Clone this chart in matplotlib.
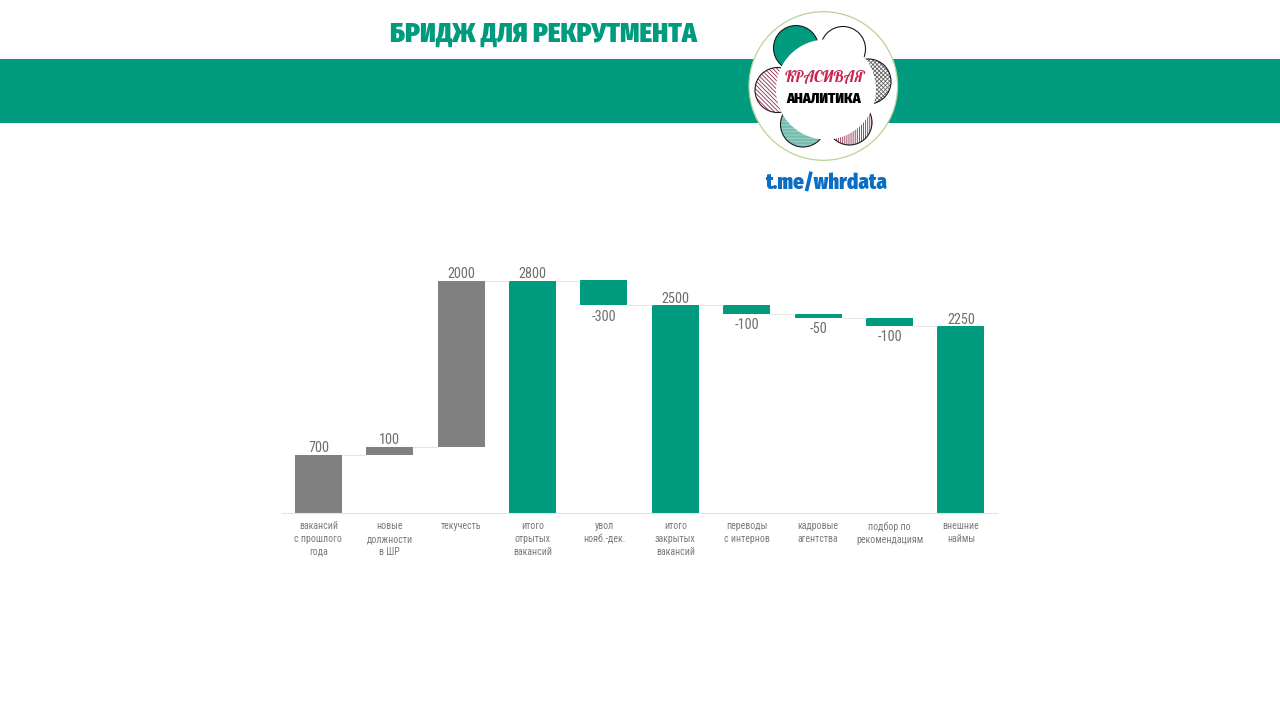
import matplotlib
matplotlib.use("Agg")
import matplotlib.pyplot as plt
from matplotlib.patches import Circle, Rectangle

categories = ["вакансий\nс прошлого\nгода", "новые\nдолжности\nв ШР", "текучесть",
              "итого\nотрытых\nвакансий", "увол\nнояб.-дек.", "итого\nзакрытых\nвакансий",
              "переводы\nс интернов", "кадровые\nагентства", "подбор по\nрекомендациям",
              "внешние\nнаймы"]
values = [700, 100, 2000, 2800, -300, 2500, -100, -50, -100, 2250]
is_total = [False, False, False, True, False, True, False, False, False, True]

GREEN = "#009B7F"
GREY = "#808080"
COND = ["Roboto Condensed", "Archivo Narrow", "Roboto", "DejaVu Sans"]
HEAVY = ["Fira Sans Condensed", "Roboto Condensed", "Roboto", "DejaVu Sans"]
SCRIPT = ["Lobster", "Liberation Serif", "DejaVu Sans"]
plt.rcParams["font.family"] = COND
plt.rcParams["hatch.linewidth"] = 0.6

W, H = 1280, 719
fig = plt.figure(figsize=(W / 100, H / 100), dpi=100, facecolor="white")

# Header and logo, drawn in pixel coordinates
bg = fig.add_axes([0, 0, 1, 1], zorder=0)
bg.set_xlim(0, W)
bg.set_ylim(H, 0)
bg.axis("off")
bg.add_patch(Rectangle((0, 59), W, 64, color=GREEN, lw=0))
bg.text(543, 34.5, "БРИДЖ ДЛЯ РЕКРУТМЕНТА", color=GREEN, fontsize=19.4, family=HEAVY, fontweight=900,
        ha="center", va="center")

bg.add_patch(Circle((823.3, 86), 74.3, fc="white", ec="#B9D29A", lw=0.9, zorder=2))
petals = [
    ((796, 48), GREEN, None, "#1a1a1a"),
    ((843, 49), "white", None, "#1a1a1a"),
    ((868.5, 81.5), "white", "xxxxxxxx", "#666666"),
    ((849.5, 122.5), "white", "||||||||", "#8E2A50"),
    ((803, 124.5), "#74BDB0", "-----", "#A5D6CC"),
    ((777.5, 90), "white", "\\\\\\\\\\\\\\\\", "#8E2A50"),
]
for (c, fc, hatch, ec) in petals:
    bg.add_patch(Circle(c, 22.5, fc=fc, ec=ec, lw=0, hatch=hatch, zorder=3))
    bg.add_patch(Circle(c, 22.5, fc="none", ec="#1a1a1a", lw=0.8, zorder=3.1))
bg.add_patch(Circle((826, 89.5), 50, fc="white", ec="none", zorder=4))
bg.text(825, 78, "КРАСИВАЯ", color="#C8284F", fontsize=11.5, family=SCRIPT,
        ha="center", va="center", zorder=5)
bg.text(824, 98.5, "АНАЛИТИКА", color="black", fontsize=10.5, family=HEAVY, fontweight=900,
        ha="center", va="center", zorder=5)
bg.text(826.5, 183.5, "t.me/whrdata", color="#0A6EC4", fontsize=15, family=HEAVY, fontweight=900,
        ha="center", va="center", zorder=5)

# Waterfall chart
left, right, top, bottom = 282, 997, 280.5, 513
ax = fig.add_axes([left / W, 1 - bottom / H, (right - left) / W, (bottom - top) / H], zorder=1)
ax.patch.set_alpha(0)
ax.set_xlim(-0.51, 9.505)
ax.set_ylim(0, 2800)
for s in ["top", "left", "right"]:
    ax.spines[s].set_visible(False)
ax.spines["bottom"].set_color("#E2E2E2")
ax.spines["bottom"].set_linewidth(0.8)
ax.set_yticks([])
ax.set_xticks(range(len(categories)))
ax.set_xticklabels(categories, fontsize=7.1, color="#7A7A7A", linespacing=1.35)
ax.tick_params(axis="x", length=0, pad=6)

width = 47 / 71.4
running = 0
levels = []
for i, (v, total) in enumerate(zip(values, is_total)):
    if total:
        base, end = 0, v
        running = v
        color = GREEN
    else:
        base, end = running, running + v
        running = end
        color = GREY if v > 0 else GREEN
    ax.bar(i, end - base, width, bottom=base, color=color, linewidth=0, clip_on=False)
    levels.append(end)
    upper = max(base, end)
    lower = min(base, end)
    if v >= 0:
        ax.annotate(str(v), (i, upper), xytext=(0, -0.3), textcoords="offset points",
                    ha="center", va="bottom", fontsize=10.3, color="#6E6E6E", annotation_clip=False)
    else:
        ax.annotate(str(v), (i, lower), xytext=(0, -3), textcoords="offset points",
                    ha="center", va="top", fontsize=10.3, color="#6E6E6E", annotation_clip=False)

for i in range(len(values) - 1):
    ax.plot([i + width / 2, i + 1 - width / 2], [levels[i], levels[i]], color="#E6E6E6", lw=0.8,
            clip_on=False, solid_capstyle="butt")

fig.savefig("out.png", dpi=100, facecolor="white")
